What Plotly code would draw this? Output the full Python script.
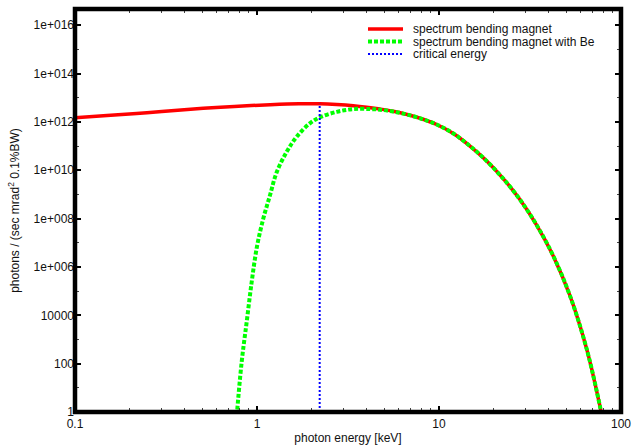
import plotly.graph_objects as go

# Photon energy grid [keV] and on-axis flux of the bending magnet
energy_bm = [0.1, 0.15, 0.218, 0.3, 0.507, 0.75, 1.18, 1.7, 2.22, 2.74,
             3.38, 4.0, 4.74, 5.5, 6.37, 7.8, 9.71, 12.0, 14.8, 18.0,
             22.6, 27.9, 34.4, 42.5, 52.5, 64.8, 76.8, 82.0]
flux_bm = [1.48e12, 1.86e12, 2.24e12, 2.69e12, 3.63e12, 4.37e12, 5.13e12,
           5.62e12, 5.62e12, 5.25e12, 4.68e12, 4.07e12, 3.39e12, 2.82e12,
           2.24e12, 1.45e12, 7.8e11, 3.3e11, 1.0e11, 2.7e10, 4.4e9,
           6.0e8, 5.4e7, 2.8e6, 6.3e4, 4.0e2, 1.6, 0.13]

# Same source seen through the beryllium window
energy_be = [0.77, 0.78, 0.824, 0.878, 0.935, 1.0, 1.083, 1.18, 1.28, 1.456,
             1.65, 1.95, 2.22, 2.74, 3.38, 4.18, 4.74, 5.5, 6.37, 7.8, 9.71,
             12.0, 14.8, 18.0, 22.6, 27.9, 34.4, 42.5, 52.5, 64.8, 76.8, 82.0]
flux_be = [0.4, 1.4, 1.2e2, 5.5e3, 2.4e5, 7.1e6, 1.0e8, 9.5e8, 7.9e9, 5.8e10,
           2.4e11, 8.7e11, 1.55e12, 2.6e12, 3.4e12, 3.4e12, 3.2e12, 2.75e12,
           2.2e12, 1.44e12, 7.8e11, 3.3e11, 1.0e11, 2.7e10, 4.4e9, 6.0e8,
           5.4e7, 2.8e6, 6.3e4, 4.0e2, 1.6, 0.13]

# Critical energy marker [keV] and its height on the spectrum
critical_energy = 2.21
critical_flux = 5.6e12

x_tickvals = [0.1, 1, 10, 100]
x_ticktext = ["0.1", "1", "10", "100"]
y_tickvals = [1, 1e2, 1e4, 1e6, 1e8, 1e10, 1e12, 1e14, 1e16]
y_ticktext = ["1", "100", "10000", "1e+006", "1e+008", "1e+010",
              "1e+012", "1e+014", "1e+016"]
x_minor = [m * 10.0 ** d for d in (-1, 0, 1) for m in range(2, 10)]
y_minor = [10.0 ** k for k in range(1, 17, 2)]

series_names = ["spectrum bending magnet", "spectrum bending magnet with Be",
                "critical energy"]

RED = "#ff0000"
GREEN = "#00ff00"
BLUE = "#0000ff"
INK = "#111111"
FONT = "Liberation Sans, Arial, sans-serif"

W, H = 632, 445
ML, MR, MT, MB = 75, 11, 9, 33
PW, PH = W - ML - MR, H - MT - MB


def px_x(p):
    return (p - ML) / PW


def px_y(p):
    return 1 - (p - MT) / PH


fig = go.Figure()
fig.add_trace(go.Scatter(x=energy_bm, y=flux_bm, mode="lines",
                         line=dict(color=RED, width=3.5, shape="spline",
                                   smoothing=1.0),
                         name=series_names[0], showlegend=False))
fig.add_trace(go.Scatter(x=energy_be, y=flux_be, mode="lines",
                         line=dict(color=GREEN, width=4, dash="4px,2px",
                                   shape="spline", smoothing=1.0),
                         name=series_names[1], showlegend=False))
fig.add_trace(go.Scatter(x=[critical_energy, critical_energy],
                         y=[1, critical_flux], mode="lines",
                         line=dict(color=BLUE, width=2, dash="2px,2px"),
                         name=series_names[2], showlegend=False))

# Frame around the plotting area
fig.add_shape(type="rect", xref="paper", yref="paper", x0=0, x1=1, y0=0, y1=1,
              line=dict(color="black", width=4.5), layer="above")

# Key in the upper right corner
key_styles = [dict(color=RED, width=3.5),
              dict(color=GREEN, width=4, dash="4px,2px"),
              dict(color=BLUE, width=2, dash="2px,2px")]
key_rows = [29, 41.5, 54]
for name, style, row in zip(series_names, key_styles, key_rows):
    fig.add_shape(type="line", xref="paper", yref="paper",
                  x0=px_x(368), x1=px_x(403), y0=px_y(row), y1=px_y(row),
                  line=style)
    fig.add_annotation(xref="paper", yref="paper", x=px_x(411), y=px_y(row),
                       text=name, showarrow=False, xanchor="left",
                       yanchor="middle", font=dict(size=12, color=INK))

axis_common = dict(
    type="log", showgrid=False, zeroline=False, showline=False,
    ticks="inside", ticklen=6, tickwidth=2, tickcolor="black", mirror="ticks",
    tickfont=dict(size=12, color=INK),
)

fig.update_xaxes(
    **axis_common, range=[-1, 2], tickmode="array",
    tickvals=x_tickvals, ticktext=x_ticktext, ticklabelstandoff=3,
    minor=dict(tickmode="array", tickvals=x_minor, ticks="inside",
               ticklen=4, tickwidth=1, tickcolor="#444"),
    title=dict(text="photon energy [keV]", font=dict(size=12, color=INK),
               standoff=4),
)
fig.update_yaxes(
    **axis_common, range=[0, 16.67], tickmode="array",
    tickvals=y_tickvals, ticktext=y_ticktext,
    minor=dict(tickmode="array", tickvals=y_minor, ticks="inside",
               ticklen=4, tickwidth=1, tickcolor="#444"),
    title=dict(text="photons / (sec mrad<sup>2</sup> 0.1%BW)",
               font=dict(size=12, color=INK), standoff=11),
)

fig.update_layout(
    width=W, height=H,
    margin=dict(l=ML, r=MR, t=MT, b=MB, autoexpand=False),
    paper_bgcolor="white", plot_bgcolor="white",
    font=dict(family=FONT, size=12, color=INK),
    showlegend=False,
)

fig.write_html("out.html")
